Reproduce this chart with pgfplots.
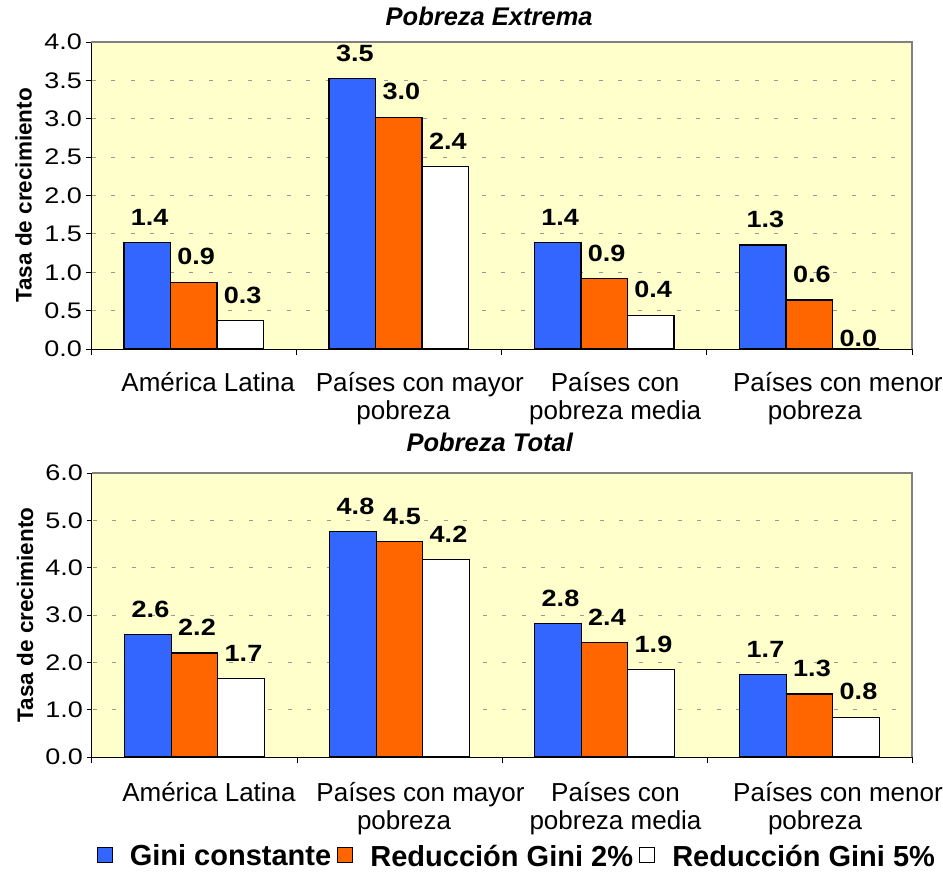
\documentclass[border=0pt]{standalone}
\usepackage{pgfplots}
\usepackage{pgfplotstable}
\pgfplotsset{compat=1.18}
\usepackage{fontspec}
\setmainfont{Liberation Sans}
\newfontfamily\tickfont[FakeStretch=1.2]{Liberation Sans}
\newfontfamily\valfont[FakeStretch=1.15]{Liberation Sans}
\definecolor{bblue}{HTML}{3366FF}
\definecolor{borange}{HTML}{FF6600}
\definecolor{bgyel}{HTML}{FFFFCC}

% Pobreza Extrema
\pgfplotstableread{
x y lab
0 1.39 1.4
1 3.52 3.5
2 1.39 1.4
3 1.355 1.3
}\exA
\pgfplotstableread{
x y lab
0 0.87 0.9
1 3.02 3.0
2 0.92 0.9
3 0.64 0.6
}\exB
\pgfplotstableread{
x y lab
0 0.37 0.3
1 2.38 2.4
2 0.44 0.4
3 0.0 0.0
}\exC
% Pobreza Total
\pgfplotstableread{
x y lab
0 2.59 2.6
1 4.76 4.8
2 2.82 2.8
3 1.75 1.7
}\toA
\pgfplotstableread{
x y lab
0 2.20 2.2
1 4.55 4.5
2 2.42 2.4
3 1.33 1.3
}\toB
\pgfplotstableread{
x y lab
0 1.66 1.7
1 4.18 4.2
2 1.85 1.9
3 0.84 0.8
}\toC

\pgfplotsset{
  mybars/.style={
    scale only axis,
    anchor=south west,
    ybar=0pt, bar width=46.5bp,
    xmin=-0.5, xmax=3.5,
    xtick={0,1,2,3},
    xticklabels={\hspace*{29bp}América Latina,{\hspace*{42bp}Países con mayor\\\hspace*{9bp}pobreza},{\hspace*{22bp}Países con\\\hspace*{22bp}pobreza media},{\hspace*{57bp}Países con menor\\\hspace*{11bp}pobreza}},
    minor xtick={-0.5,0.5,1.5,2.5,3.5},
    tick align=outside,
    major tick length=5bp, minor tick length=6bp,
    major x tick style={draw=none},
    minor x tick style={black, line width=1bp},
    ytick style={black, line width=1bp},
    axis x line*=bottom, axis y line*=left,
    axis line style={-, black, line width=1bp},
    axis background/.style={fill=bgyel},
    ymajorgrids=true,
    major grid style={draw=gray!80, dash pattern=on 4bp off 15.5bp, dash phase=-20bp, line width=0.8bp},
    yticklabel style={font=\tickfont\fontsize{22.5bp}{26bp}\selectfont, inner sep=0pt, xshift=-4bp},
    /pgf/number format/.cd, fixed, fixed zerofill, precision=1, assume math mode=true, /pgfplots/.cd,
    xticklabel style={font=\fontsize{26bp}{28bp}\selectfont, align=center, anchor=north, inner sep=0pt, yshift=-18bp},
    title style={font=\bfseries\itshape\fontsize{25.5bp}{30bp}\selectfont, at={(0.485,1)}, anchor=south, inner sep=0pt, yshift=10bp},
    ylabel={Tasa de crecimiento},
    ylabel style={font=\bfseries\fontsize{22.5bp}{26bp}\selectfont, anchor=center, inner sep=0pt},
    point meta=explicit symbolic,
    nodes near coords,
    visualization depends on={y \as \rawy},
    every node near coord/.append style={font=\valfont\bfseries\fontsize{23.5bp}{26bp}\selectfont, inner sep=0pt, anchor=south, yshift={ifthenelse(\rawy>0.01,16.5,2)*1bp}, xshift=2.5bp, text=black},
    after end axis/.code={\draw[gray, line width=1.2bp] (rel axis cs:0,1) -- (rel axis cs:1,1) -- (rel axis cs:1,0);},
  },
  sqleg/.style={legend image code/.code={\draw[##1, draw=black, line width=1.2bp] (0bp,-6bp) rectangle (15bp,9bp);}},
}

\begin{document}
\begin{tikzpicture}
\begin{axis}[mybars, at={(92bp,-757bp)}, width=820bp, height=284bp,
  ymin=0, ymax=6, ytick={0,1,2,3,4,5,6},
  title={Pobreza Total}, title style={yshift=5bp},
  ylabel style={at={(rel axis cs:-0.0817,0.5)}},
  xticklabel style={yshift=-2bp},
  legend style={at={(axis description cs:0.518,-0.397)}, anchor=south, draw=none, fill=none, inner sep=0pt,
    font=\bfseries\fontsize{29bp}{33bp}\selectfont, legend columns=3,
    nodes={inner sep=2bp},
    /tikz/every even column/.append style={column sep=4bp},
    /tikz/every odd column/.append style={column sep=15bp}},
  legend cell align=left]
\addplot[fill=bblue, draw=black, line width=1.3bp, sqleg] table[x=x, y=y, meta=lab] {\toA};
\addplot[fill=borange, draw=black, line width=1.3bp, sqleg] table[x=x, y=y, meta=lab] {\toB};
\addplot[fill=white, draw=black, line width=1.3bp, sqleg] table[x=x, y=y, meta=lab] {\toC};
\legend{Gini constante, Reducción Gini 2\%, Reducción Gini 5\%}
\end{axis}
\begin{axis}[mybars, at={(91bp,-349bp)}, width=821bp, height=307bp,
  ymin=0, ymax=4, ytick={0,0.5,1,1.5,2,2.5,3,3.5,4},
  title={Pobreza Extrema},
  ylabel style={at={(rel axis cs:-0.0822,0.5)}}]
\addplot[fill=bblue, draw=black, line width=1.3bp] table[x=x, y=y, meta=lab] {\exA};
\addplot[fill=borange, draw=black, line width=1.3bp] table[x=x, y=y, meta=lab] {\exB};
\addplot[fill=white, draw=black, line width=1.3bp] table[x=x, y=y, meta=lab] {\exC};
\end{axis}
\pgfresetboundingbox
\path[use as bounding box] (0,0) rectangle (943bp,-875bp);
\end{tikzpicture}
\end{document}
